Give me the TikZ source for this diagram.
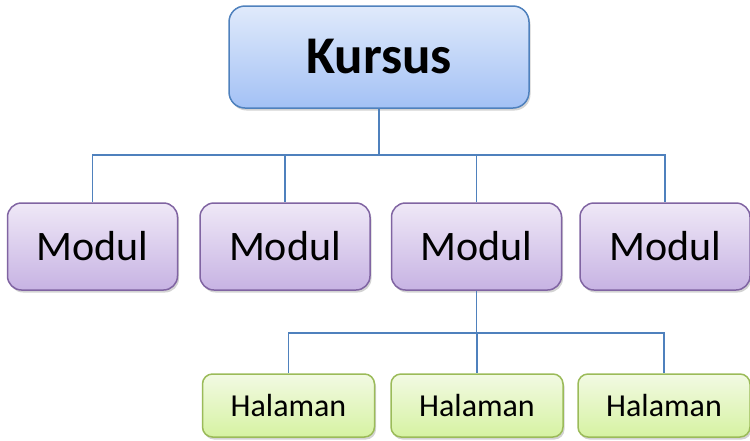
\documentclass[tikz,border=0pt]{standalone}
\usepackage{fontspec}
\setmainfont{Carlito}
\usetikzlibrary{shadows,calc}
\definecolor{linkblue}{HTML}{4F81BD}
\definecolor{kborder}{HTML}{4F81BD}
\definecolor{ktop}{HTML}{E0EAFB}
\definecolor{kbot}{HTML}{A3C1F5}
\definecolor{mborder}{HTML}{8064A2}
\definecolor{mtop}{HTML}{EFE8F7}
\definecolor{mbot}{HTML}{C7B3E3}
\definecolor{hborder}{HTML}{9BBB59}
\definecolor{htop}{HTML}{F2FAE3}
\definecolor{hbot}{HTML}{D6F2A2}
\tikzset{
  x=1pt,y=1pt,
  boxshadow/.style={drop shadow={opacity=0.35,shadow xshift=1.5pt,shadow yshift=-2.5pt}},
  kursusbox/.style={rectangle,rounded corners=16pt,draw=kborder,line width=1.5pt,
    top color=ktop,bottom color=kbot,minimum width=300pt,minimum height=102pt,
    boxshadow,font=\fontsize{53}{63}\selectfont\bfseries,inner sep=0pt},
  modulbox/.style={rectangle,rounded corners=14pt,draw=mborder,line width=1.5pt,
    top color=mtop,bottom color=mbot,minimum width=170pt,minimum height=87pt,
    boxshadow,font=\fontsize{42}{50}\selectfont,inner sep=0pt},
  halbox/.style={rectangle,rounded corners=10pt,draw=hborder,line width=1.5pt,
    top color=htop,bottom color=hbot,minimum width=172pt,minimum height=63pt,
    boxshadow,font=\fontsize{32}{38}\selectfont,inner sep=0pt},
  link/.style={draw=linkblue,line width=1.4pt},
  trunk/.style={draw=linkblue,line width=2.6pt},
}
\begin{document}
\begin{tikzpicture}
\useasboundingbox (0,0) rectangle (750,-440);
\coordinate (kb) at (379,-155);
\coordinate (mb) at (476.5,-333);
\node[kursusbox] (k) at (379,-57) {Kursus};
\node[modulbox] (m1) at (92.5,-246.5) {Modul};
\node[modulbox] (m2) at (285,-246.5) {Modul};
\node[modulbox] (m3) at (476.5,-246.5) {Modul};
\node[modulbox] (m4) at (665,-246.5) {Modul};
\node[halbox] (h1) at (288.5,-405.5) {Halaman};
\node[halbox] (h2) at (477,-405.5) {Halaman};
\node[halbox] (h3) at (664,-405.5) {Halaman};
\draw[trunk] (k.south) -- (kb);
\draw[link] (kb) -| (m1.north);
\draw[link] (kb) -| (m2.north);
\draw[link] (kb) -| (m3.north);
\draw[link] (kb) -| (m4.north);
\draw[link] (m3.south) -- (mb);
\draw[link] (mb) -| (h1.north);
\draw[link] (mb) -| (h2.north);
\draw[link] (mb) -| (h3.north);
\end{tikzpicture}
\end{document}
